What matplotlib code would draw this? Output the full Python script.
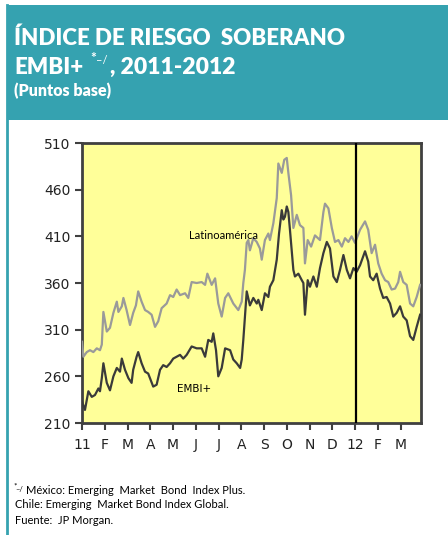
import numpy as np
import matplotlib
matplotlib.use("Agg")
import matplotlib.pyplot as plt
from matplotlib.patches import Rectangle
from matplotlib.lines import Line2D

# months counted from 1 Jan 2011 (12 = 1 Jan 2012)
latam_x = [0.00, 0.06, 0.21, 0.35, 0.50, 0.65, 0.79, 0.87, 0.94, 1.09, 1.23, 1.38, 1.53, 1.60,
           1.75, 1.82, 1.96, 2.11, 2.25, 2.37, 2.47, 2.62, 2.77, 2.91, 3.06, 3.21, 3.35, 3.50,
           3.72, 3.87, 4.01, 4.16, 4.31, 4.53, 4.67, 4.82, 5.04, 5.26, 5.41, 5.51, 5.70, 5.85,
           5.99, 6.14, 6.29, 6.43, 6.65, 6.87, 7.02, 7.09, 7.16, 7.24, 7.31, 7.38, 7.53, 7.68,
           7.82, 7.90, 8.04, 8.19, 8.26, 8.41, 8.56, 8.63, 8.78, 8.89, 9.00, 9.07, 9.19, 9.29,
           9.44, 9.58, 9.73, 9.80, 9.92, 10.07, 10.24, 10.46, 10.61, 10.68, 10.83, 10.98, 11.12,
           11.27, 11.42, 11.56, 11.71, 11.85, 12.00, 12.22, 12.44, 12.58, 12.73, 12.88, 13.02,
           13.17, 13.32, 13.46, 13.61, 13.76, 13.90, 13.98, 14.12, 14.27, 14.42, 14.56, 14.71, 14.86]
latam_y = [297, 281, 286, 288, 286, 290, 288, 294, 329, 308, 312, 328, 340, 329,
           335, 344, 331, 315, 328, 336, 351, 340, 331, 329, 326, 313, 319, 333,
           338, 347, 345, 353, 347, 349, 344, 361, 360, 361, 358, 370, 358, 365,
           338, 324, 344, 349, 338, 331, 340, 360, 374, 403, 406, 395, 408, 404,
           397, 385, 406, 413, 406, 424, 451, 488, 478, 492, 494, 478, 454, 419,
           433, 422, 419, 381, 406, 399, 411, 406, 436, 445, 440, 419, 404,
           406, 399, 408, 404, 410, 403, 417, 426, 417, 392, 401, 381,
           370, 363, 361, 353, 354, 361, 372, 361, 358, 338, 335, 345, 358]

embi_x = [0.00, 0.13, 0.28, 0.43, 0.57, 0.72, 0.79, 0.87, 0.94, 1.09, 1.23, 1.38, 1.53, 1.67,
          1.75, 1.89, 2.04, 2.18, 2.25, 2.40, 2.47, 2.62, 2.77, 2.91, 3.13, 3.28, 3.43, 3.57,
          3.72, 3.87, 4.01, 4.16, 4.31, 4.45, 4.60, 4.82, 5.04, 5.26, 5.41, 5.55, 5.70, 5.77,
          5.89, 5.99, 6.14, 6.29, 6.51, 6.65, 6.80, 6.95, 7.02, 7.09, 7.24, 7.38, 7.53, 7.68,
          7.75, 7.90, 8.04, 8.19, 8.26, 8.41, 8.56, 8.66, 8.78, 8.85, 8.92, 9.00, 9.07, 9.14,
          9.29, 9.36, 9.51, 9.66, 9.73, 9.80, 9.92, 10.02, 10.17, 10.32, 10.46, 10.61, 10.76,
          10.90, 11.05, 11.20, 11.34, 11.49, 11.64, 11.78, 11.93, 12.07, 12.22, 12.44, 12.58,
          12.66, 12.80, 12.95, 13.10, 13.24, 13.39, 13.54, 13.68, 13.83, 13.98, 14.12, 14.27,
          14.42, 14.56, 14.71, 14.86]
embi_y = [233, 224, 244, 238, 240, 247, 244, 258, 274, 253, 245, 260, 269, 265,
          279, 267, 258, 253, 267, 281, 286, 274, 265, 263, 249, 251, 267, 272,
          270, 274, 279, 281, 283, 279, 283, 292, 290, 290, 281, 299, 297, 306,
          288, 260, 269, 290, 288, 278, 274, 269, 278, 299, 351, 336, 344, 338,
          342, 331, 349, 345, 356, 363, 385, 413, 438, 428, 431, 442, 436, 417,
          374, 367, 370, 363, 360, 326, 363, 356, 367, 356, 376, 392, 404,
          397, 367, 361, 374, 390, 374, 365, 376, 372, 379, 394, 383,
          367, 363, 370, 354, 344, 345, 338, 324, 328, 335, 324, 320,
          303, 299, 313, 326]

yticks = [210, 260, 310, 360, 410, 460, 510]
month_labels = ['11', 'F', 'M', 'A', 'M', 'J', 'J', 'A', 'S', 'O', 'N', 'D', '12', 'F', 'M']

teal = '#35a2b0'
fig = plt.figure(figsize=[4.48, 5.35], dpi=100)

def fx(px):
    return px / 448

def fy(py):
    return 1 - py / 535

# header band and left rule
fig.patches.append(Rectangle((fx(7), fy(120)), 1 - fx(7), 115/535, transform=fig.transFigure,
                             facecolor=teal, edgecolor='none', zorder=0))
fig.lines.append(Line2D([fx(7), fx(7)], [0, fy(5)], transform=fig.transFigure,
                        color=teal, lw=2))

tfont = ['Lato', 'DejaVu Sans']
fig.text(fx(14), fy(38), 'ÍNDICE DE RIESGO  SOBERANO', color='white', fontsize=16,
         fontweight='heavy', family=tfont, va='center')
fig.text(fx(14), fy(67), 'EMBI+', color='white', fontsize=16,
         fontweight='heavy', family=tfont, va='center')
fig.text(fx(90), fy(58), '*', color='white', fontsize=10,
         fontweight='bold', family=tfont, va='center')
fig.text(fx(96), fy(61), '–/', color='white', fontsize=8,
         family=tfont, va='center')
fig.text(fx(110), fy(67), ', 2011-2012', color='white', fontsize=16.5,
         fontweight='heavy', family=tfont, va='center')
fig.text(fx(14), fy(91), '(Puntos base)', color='white', fontsize=11.5,
         fontweight='heavy', family=tfont, va='center')

ax = fig.add_axes([fx(82), fy(423), 339/448, 280/535])
ax.set_facecolor('#ffff99')
ax.plot(latam_x, latam_y, color='#9a9a9a', lw=1.6, zorder=3)
ax.plot(embi_x, embi_y, color='#3a3a3a', lw=1.6, zorder=4)
ax.axvline(12.05, color='black', lw=1.6, zorder=5)

ax.set_xlim(0, 14.9)
ax.set_ylim(210, 510)
ax.set_yticks(yticks)
ax.set_xticks(np.arange(len(month_labels)))
ax.set_xticklabels(month_labels)
ax.tick_params(direction='out', length=5, width=1.5, color='#404040',
               labelsize=10, labelcolor='#222222')
ax.tick_params(axis='x', pad=6)
for s in ax.spines.values():
    s.set_color('#404040')
    s.set_linewidth(2)

ax.text(6.2, 410.5, 'Latinoamérica', fontsize=8, family=tfont, ha='center', va='center')
ax.text(4.92, 246, 'EMBI+', fontsize=7.5, family='DejaVu Sans', ha='center', va='center')

ffont = ['Lato', 'DejaVu Sans']
fig.text(fx(13), fy(486), '*', fontsize=6, family=ffont, va='center')
fig.text(fx(15.5), fy(489), '–/', fontsize=5.5, family=ffont, va='center')
fig.text(fx(26), fy(490), 'México: Emerging  Market  Bond  Index Plus.', fontsize=8,
         family=ffont, va='center')
fig.text(fx(15), fy(505), 'Chile: Emerging  Market Bond Index Global.', fontsize=8,
         family=ffont, va='center')
fig.text(fx(15), fy(521), 'Fuente:  JP Morgan.', fontsize=8, family=ffont, va='center')

fig.savefig('out.png', dpi=100)
